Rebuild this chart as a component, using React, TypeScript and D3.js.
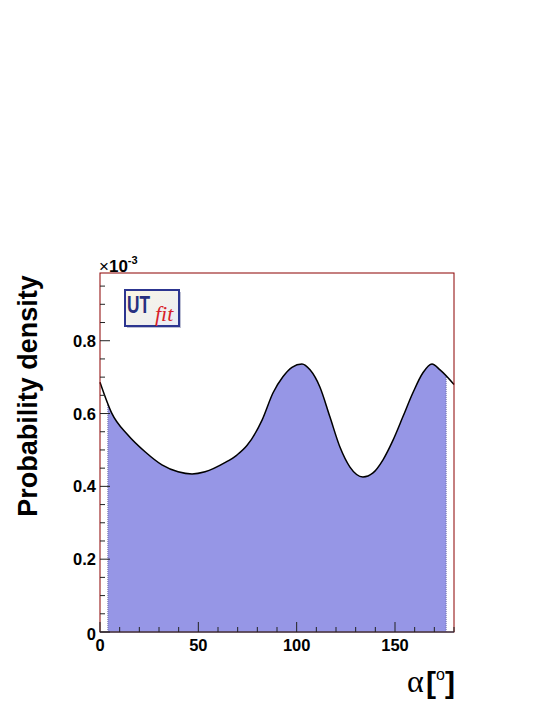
import React from "react";
import * as d3 from "d3";

const alphaDeg = [0, 5.9, 14.2, 22.9, 31.5, 39.7, 46.8, 53.4, 63.5, 69.6, 74.7, 82.4, 88, 93, 97.6, 102.7, 106.8, 111.8, 116.9, 122, 127.1, 133.7, 138.8, 143.9, 149, 154, 159.1, 164.2, 168.8, 172.9, 180];
const density = [0.686, 0.602, 0.541, 0.495, 0.459, 0.440, 0.434, 0.440, 0.465, 0.486, 0.512, 0.582, 0.657, 0.701, 0.727, 0.736, 0.720, 0.673, 0.591, 0.508, 0.453, 0.426, 0.437, 0.473, 0.527, 0.591, 0.657, 0.712, 0.736, 0.720, 0.680];
const fillRange = [4, 176];
const xMajorTicks = [0, 50, 100, 150];
const yMajorTicks = [0, 0.2, 0.4, 0.6, 0.8];

const W = 545, H = 705;
const L = 100, R = 454, T = 273, B = 632;

export default function App() {
  const x = d3.scaleLinear().domain([0, 180]).range([L, R]);
  const y = d3.scaleLinear().domain([0, 0.986]).range([B, T]);
  const pts = alphaDeg.map((a, i) => [a, density[i]] as [number, number]);
  const line = d3.line<[number, number]>().x(d => x(d[0])).y(d => y(d[1])).curve(d3.curveMonotoneX);
  const area = d3.area<[number, number]>().x(d => x(d[0])).y0(B).y1(d => y(d[1])).curve(d3.curveMonotoneX);
  const xMinor = d3.range(0, 181, 10);
  const yMinor = d3.range(0, 0.96, 0.05);
  const font = "Liberation Sans, Arial, Helvetica, sans-serif";

  return (
    <svg width={W} height={H} style={{ position: "absolute", left: 0, top: 0 }}>
      <rect width={W} height={H} fill="white" />
      <defs>
        <clipPath id="fillclip">
          <rect x={x(fillRange[0])} y={T} width={x(fillRange[1]) - x(fillRange[0])} height={B - T} />
        </clipPath>
        <clipPath id="areaclip">
          <path d={area(pts) || ""} />
        </clipPath>
        <linearGradient id="logobg" x1="0" y1="0" x2="1" y2="1">
          <stop offset="0" stopColor="#fbf6e4" />
          <stop offset="1" stopColor="#e9ecf6" />
        </linearGradient>
      </defs>
      <path d={area(pts) || ""} fill="#9696e6" clipPath="url(#fillclip)" />
      {fillRange.map((v, i) => (
        <line key={i} x1={x(v)} x2={x(v)} y1={B} y2={T} stroke="#6f6fa8" strokeWidth={1} strokeDasharray="1,1" clipPath="url(#areaclip)" />
      ))}
      <path d={line(pts) || ""} fill="none" stroke="black" strokeWidth={1.5} />
      {/* frame */}
      <rect x={L} y={T} width={R - L} height={B - T} fill="none" stroke="#8b0000" strokeWidth={1} />
      <line x1={L} x2={R} y1={B} y2={B} stroke="#4a4a5a" strokeWidth={1.5} />
      {/* x ticks */}
      {xMinor.map(v => (
        <line key={"xm" + v} x1={x(v)} x2={x(v)} y1={B} y2={B - (v % 50 === 0 ? 10 : 5)} stroke="#222" strokeWidth={1} />
      ))}
      {xMajorTicks.map(v => (
        <text key={"xl" + v} x={x(v)} y={B + 19} textAnchor="middle" fontFamily={font} fontWeight="bold" fontSize={16.5} fill="black">{v}</text>
      ))}
      {/* y ticks */}
      {yMinor.map((v, i) => (
        <line key={"ym" + i} x1={L} x2={L + (i % 4 === 0 ? 10 : 5)} y1={y(v)} y2={y(v)} stroke="#222" strokeWidth={1} />
      ))}
      {yMajorTicks.map(v => (
        <text key={"yl" + v} x={L - 4} y={y(v) + 6 + (v === 0 ? 2 : 0)} textAnchor="end" fontFamily={font} fontWeight="bold" fontSize={16.5} fill="black">{v === 0 ? "0" : v.toFixed(1)}</text>
      ))}
      {/* exponent */}
      <text x={L - 1} y={T - 1} fontFamily={font} fontSize={17} fill="black">×<tspan fontWeight="bold">10</tspan><tspan fontSize={11} dy={-8} fontWeight="bold">-3</tspan></text>
      {/* y title */}
      <text transform={`translate(37,396) rotate(-90)`} textAnchor="middle" fontFamily={font} fontWeight="bold" fontSize={27} fill="black">Probability density</text>
      {/* x title */}
      <text x={407} y={692} fontFamily="Liberation Serif, Times New Roman, serif" fontSize={32} fill="black">α</text>
      <text x={426} y={693} fontFamily={font} fontWeight="bold" fontSize={30} fill="black">[<tspan fontSize={16} dy={-13} fontWeight="normal">o</tspan><tspan dy={13}>]</tspan></text>
      {/* logo */}
      <g>
        <rect x={127} y={292} width={54} height={36} fill="#7a7fa8" opacity={0.5} />
        <rect x={125} y={290} width={54} height={36} fill="url(#logobg)" stroke="#2c3590" strokeWidth={2} />
        <text x={127} y={313} fontFamily={font} fontWeight="bold" fontSize={24} fill="#283080" textLength={23} lengthAdjust="spacingAndGlyphs">UT</text>
        <text x={155} y={321} fontFamily="Liberation Serif, Times New Roman, serif" fontStyle="italic" fontSize={22} fill="#d81e2a">fit</text>
      </g>
    </svg>
  );
}
